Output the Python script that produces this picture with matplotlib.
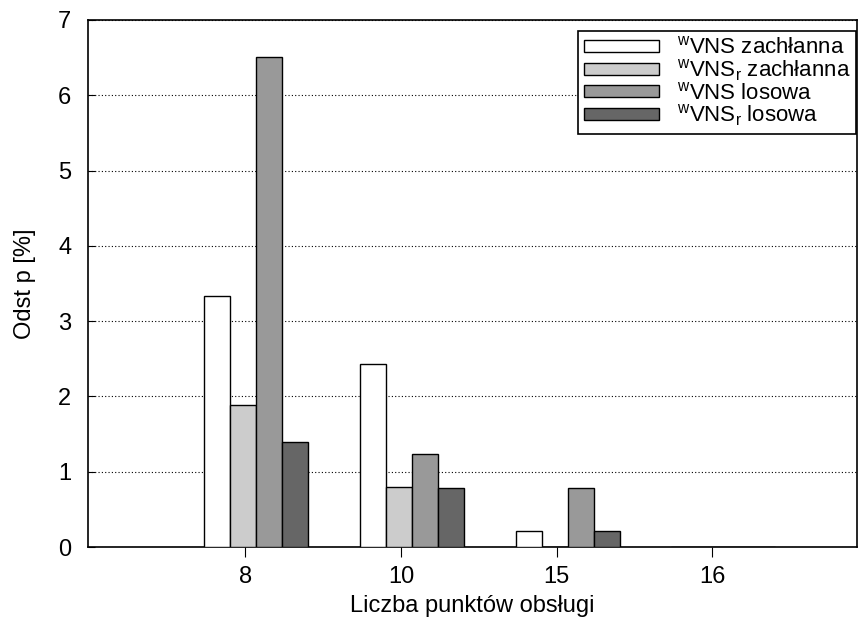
import matplotlib
matplotlib.use("Agg")
import matplotlib.pyplot as plt
import numpy as np

plt.rcParams['font.family'] = ['Liberation Sans', 'DejaVu Sans']
plt.rcParams['mathtext.fontset'] = 'custom'
plt.rcParams['mathtext.rm'] = 'Liberation Sans'

# liczba punktów obsługi i odstępy dla czterech wariantów algorytmu
categories = ['8', '10', '15', '16']
series_names = [r'$^{\mathrm{w}}$VNS zachłanna',
                r'$^{\mathrm{w}}$VNS$_{\mathrm{r}}$ zachłanna',
                r'$^{\mathrm{w}}$VNS losowa',
                r'$^{\mathrm{w}}$VNS$_{\mathrm{r}}$ losowa']
vns_greedy = [3.34, 2.43, 0.21, 0.0]
vnsr_greedy = [1.89, 0.80, 0.0, 0.0]
vns_random = [6.51, 1.24, 0.78, 0.0]
vnsr_random = [1.39, 0.78, 0.21, 0.0]
colors = ['#ffffff', '#cccccc', '#999999', '#666666']

W, H = 859, 627
fig = plt.figure(figsize=(W / 100, H / 100), dpi=100)
ax = fig.add_axes([88 / W, 80 / H, 769 / W, 527 / H])

x = np.arange(len(categories))
width = 0.167
offset0 = -0.263
for j, vals in enumerate([vns_greedy, vnsr_greedy, vns_random, vnsr_random]):
    ax.bar(x + offset0 + j * width, vals, width, align='edge',
           color=colors[j], edgecolor='black', linewidth=1.0,
           label=series_names[j], zorder=3)

ax.set_xlim(-1.01, 3.93)
ax.set_ylim(0, 7)
ax.set_xticks(x)
ax.set_xticklabels(categories)
ax.set_yticks(range(8))
ax.tick_params(axis='y', direction='in', length=5, labelsize=17, pad=12)
ax.tick_params(axis='x', direction='out', length=7, labelsize=17, pad=7)
ax.tick_params(right=False, top=False)

ax.yaxis.grid(True, linestyle=(0, (1, 2)), color='black', linewidth=0.8)
ax.set_axisbelow(True)
for s in ax.spines.values():
    s.set_linewidth(1.2)

ax.set_xlabel('Liczba punktów obsługi', fontsize=17, labelpad=5)
ax.set_ylabel('Odst p [%]', fontsize=17, labelpad=16)

leg = ax.legend(loc='upper right', bbox_to_anchor=(856 / W, 1 - 31 / H),
                bbox_transform=fig.transFigure, fontsize=16, frameon=True,
                fancybox=False, edgecolor='black', framealpha=1,
                handlelength=3.4, handleheight=0.45, labelspacing=-0.05,
                borderpad=0.25, handletextpad=0.8, borderaxespad=0)
leg.get_frame().set_linewidth(1.2)

fig.savefig("out.png", dpi=100)
